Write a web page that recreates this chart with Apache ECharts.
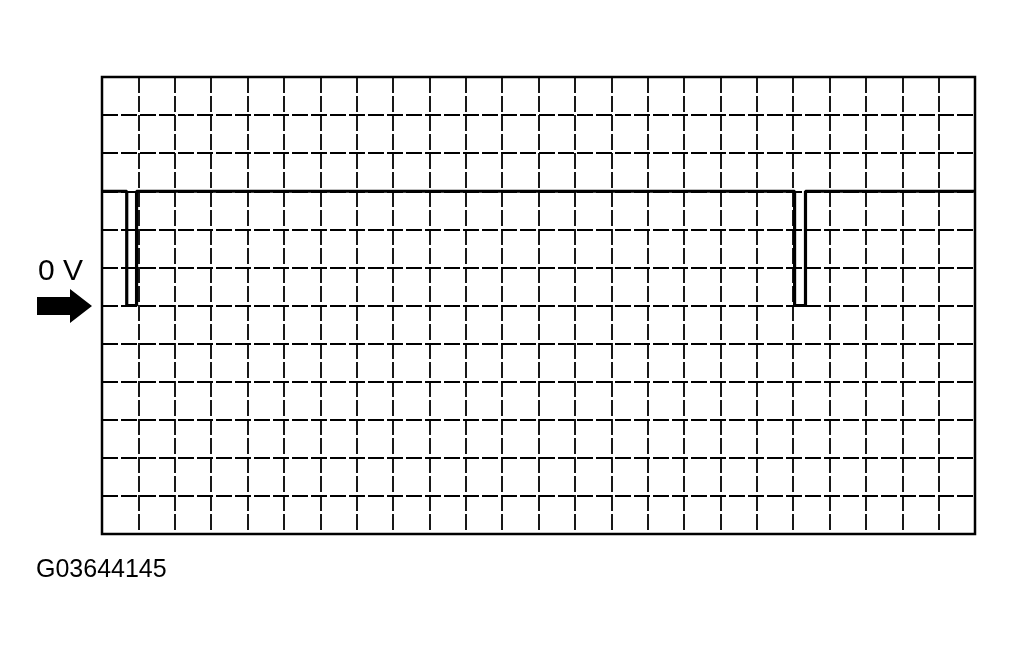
<!DOCTYPE html>
<html>
<head>
<meta charset="utf-8">
<script src="https://cdn.jsdelivr.net/npm/echarts@6/dist/echarts.min.js"></script>
<style>
html,body{margin:0;padding:0;background:#fff;}
#c{width:1015px;height:655px;}
</style>
</head>
<body>
<div id="c"></div>
<script>
// Time in divisions (0..24), voltage in divisions (0 V at 0)
var timeDiv = [0, 0.68, 0.68, 0.95, 0.95, 19.04, 19.04, 19.34, 19.34, 24];
var voltDiv = [3, 3, 0, 0, 3, 3, 0, 0, 3, 3];
var xRange = [0, 24];
var yRange = [-6, 6];
var zeroLabel = '0 V';
var figureCode = 'G03644145';

var chart = echarts.init(document.getElementById('c'), null, {renderer: 'canvas'});
var signal = timeDiv.map(function (t, i) { return [t, voltDiv[i]]; });

var gridLine = {show: true, lineStyle: {color: '#000', width: 1.8, type: [16, 3]}};

chart.setOption({
  backgroundColor: '#fff',
  animation: false,
  grid: {left: 102, right: 40, top: 77, bottom: 121, show: true, borderColor: '#000', borderWidth: 2.5, backgroundColor: 'transparent'},
  xAxis: {
    type: 'value', min: xRange[0], max: xRange[1], interval: 1,
    axisLine: {show: false}, axisTick: {show: false}, axisLabel: {show: false},
    splitLine: gridLine
  },
  yAxis: {
    type: 'value', min: yRange[0], max: yRange[1], interval: 1,
    axisLine: {show: false}, axisTick: {show: false}, axisLabel: {show: false},
    splitLine: gridLine
  },
  series: [{
    type: 'line',
    data: signal,
    symbol: 'none',
    lineStyle: {color: '#000', width: 3.2},
    z: 5
  }],
  graphic: [
    {
      type: 'text', left: 38, top: 257,
      style: {text: zeroLabel, font: '30px "Liberation Sans", Arial, sans-serif', fill: '#000'}
    },
    {
      type: 'polygon',
      shape: {points: [[37, 297], [70, 297], [70, 289], [92, 306], [70, 323], [70, 315], [37, 315]]},
      style: {fill: '#000'}
    },
    {
      type: 'text', left: 36, top: 558,
      style: {text: figureCode, font: '25px "Liberation Sans", Arial, sans-serif', fill: '#000'}
    }
  ]
});
</script>
</body>
</html>
